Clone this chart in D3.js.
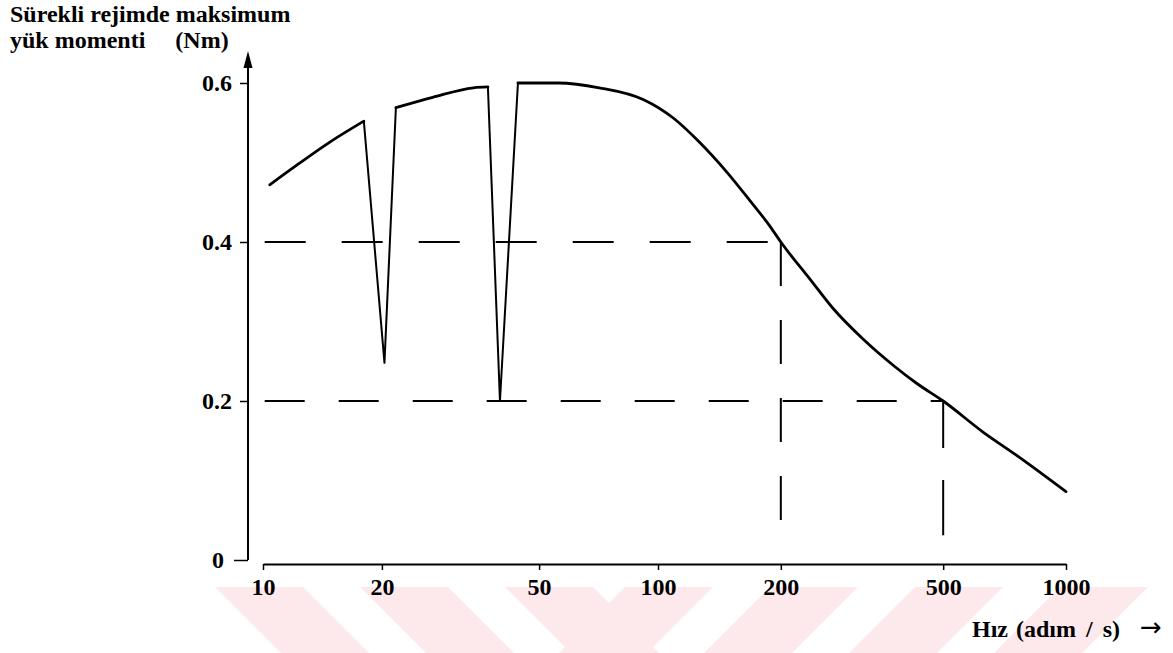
<!DOCTYPE html>
<html>
<head>
<meta charset="utf-8">
<script src="https://cdn.jsdelivr.net/npm/d3@7"></script>
<style>
  body { margin: 0; background: #fff; }
  text { font-family: "Liberation Serif", "DejaVu Serif", serif; font-weight: bold; fill: #000; }
</style>
</head>
<body>
<div id="chart"></div>
<script>
var w = 1173;
var h = 653;

// speed (steps / s) and max load torque (Nm)
var speed  = [10.4, 12.2, 14.8, 18.0, 20.3, 21.7, 26.9, 34.1, 37.1, 39.8, 44.2, 56, 71, 92, 109, 125, 148, 168, 188, 200, 236, 268, 318, 377, 431, 500, 626, 760, 1000];
var torque = [0.472, 0.497, 0.526, 0.552, 0.248, 0.569, 0.582, 0.594, 0.595, 0.200, 0.600, 0.600, 0.594, 0.579, 0.556, 0.528, 0.487, 0.452, 0.420, 0.400, 0.353, 0.317, 0.278, 0.245, 0.222, 0.200, 0.161, 0.131, 0.086];
// the two resonance dips are straight strokes, the rest is smooth
var dipIndex = [4, 9];

// dashed guide lines
var guideSpeed  = [200, 500];
var guideTorque = [0.4, 0.2];

var xTicks = [10, 20, 50, 100, 200, 500, 1000];
var yTicks = [0, 0.2, 0.4, 0.6];

var yTitle = ["Sürekli rejimde maksimum", "yük momenti     (Nm)"];

var svg = d3.select("#chart").append("svg")
    .attr("width", w)
    .attr("height", h);

// faint pink watermark stripes at the bottom of the scan
var wm = svg.append("g").attr("fill", "#fde8ec");
[215, 360, 505].forEach(function(x0) {
    wm.append("polygon").attr("points", [[x0, 587], [x0 + 88, 587], [x0 + 154, 653], [x0 + 66, 653]].join(" "));
});
[625, 770, 915, 1060].forEach(function(x0) {
    wm.append("polygon").attr("points", [[x0, 587], [x0 + 88, 587], [x0 + 22, 653], [x0 - 66, 653]].join(" "));
});

// the printed decades are not quite the same length
var x = d3.scaleLog().domain([10, 100, 1000]).range([263, 658, 1066]);
var y = d3.scaleLinear().domain([0, 0.6]).range([560, 83]);

// x axis
var xAxis = svg.append("g")
    .attr("transform", "translate(0,564)")
    .call(d3.axisBottom(x).tickValues(xTicks).tickFormat(d3.format("d")).tickSize(6).tickSizeOuter(0).tickPadding(8));
xAxis.select(".domain").attr("stroke-width", 2);
xAxis.selectAll(".tick line").attr("stroke-width", 1.5);
xAxis.selectAll("text").style("font-size", "24px").attr("font-family", null);

// y axis (own vertical line with arrow)
var yAxis = svg.append("g")
    .attr("transform", "translate(248,0)")
    .call(d3.axisLeft(y).tickValues(yTicks).tickFormat(function(d) { return d === 0 ? "0" : d3.format(".1f")(d); }).tickSize(8).tickPadding(8));
yAxis.select(".domain").remove();
yAxis.selectAll(".tick line").attr("stroke-width", 1.5);
yAxis.selectAll("text").style("font-size", "24px").attr("font-family", null);
// the zero tick sits a little further out
yAxis.selectAll(".tick").filter(function(d) { return d === 0; })
    .select("line").attr("x2", -14);
yAxis.selectAll(".tick").filter(function(d) { return d === 0; })
    .select("text").attr("x", -24);

svg.append("line")
    .attr("x1", 248).attr("x2", 248)
    .attr("y1", y(0)).attr("y2", 62)
    .attr("stroke", "#000").attr("stroke-width", 2);
svg.append("path")
    .attr("d", "M248,51L243.5,68L252.5,68Z")
    .attr("fill", "#000");

// guide lines
guideSpeed.forEach(function(s, i) {
    svg.append("line")
        .attr("x1", x(10.1)).attr("x2", x(s))
        .attr("y1", y(guideTorque[i])).attr("y2", y(guideTorque[i]))
        .attr("stroke", "#000").attr("stroke-width", 2)
        .attr("stroke-dasharray", i === 0 ? "41,36" : "40,34");
    svg.append("line")
        .attr("x1", x(s)).attr("x2", x(s))
        .attr("y1", y(guideTorque[i])).attr("y2", y(0.031))
        .attr("stroke", "#000").attr("stroke-width", 2)
        .attr("stroke-dasharray", i === 0 ? "44,34" : "47,32,60");
});

// torque curve, split at the dips
var pts = speed.map(function(s, i) { return [s, torque[i]]; });
var pieces = [];
var start = 0;
dipIndex.forEach(function(k) {
    pieces.push({ pts: pts.slice(start, k), curve: d3.curveMonotoneX });
    pieces.push({ pts: pts.slice(k - 1, k + 2), curve: d3.curveLinear });
    start = k + 1;
});
pieces.push({ pts: pts.slice(start), curve: d3.curveMonotoneX });

pieces.forEach(function(p) {
    var line = d3.line()
        .x(function(d) { return x(d[0]); })
        .y(function(d) { return y(d[1]); })
        .curve(p.curve);
    svg.append("path")
        .datum(p.pts)
        .attr("d", line)
        .attr("fill", "none")
        .attr("stroke", "#000")
        .attr("stroke-width", p.curve === d3.curveLinear ? 2 : 2.8)
        .attr("stroke-linecap", "round")
        .attr("stroke-linejoin", "round");
});

// axis titles
svg.append("g").selectAll("text")
    .data(yTitle)
    .enter().append("text")
    .attr("x", 10)
    .attr("y", function(d, i) { return 22 + i * 26; })
    .style("font-size", "24px")
    .attr("xml:space", "preserve")
    .style("white-space", "pre")
    .text(function(d) { return d; });

svg.append("text").attr("x", 972).attr("y", 637).style("font-size", "24px").text("Hız");
svg.append("text").attr("x", 1016).attr("y", 637).style("font-size", "24px").style("word-spacing", "4px").text("(adım / s)");
svg.append("text").attr("x", 1140).attr("y", 636).style("font-size", "26px").style("font-family", "DejaVu Sans").style("font-weight", "normal").text("→");
</script>
</body>
</html>
